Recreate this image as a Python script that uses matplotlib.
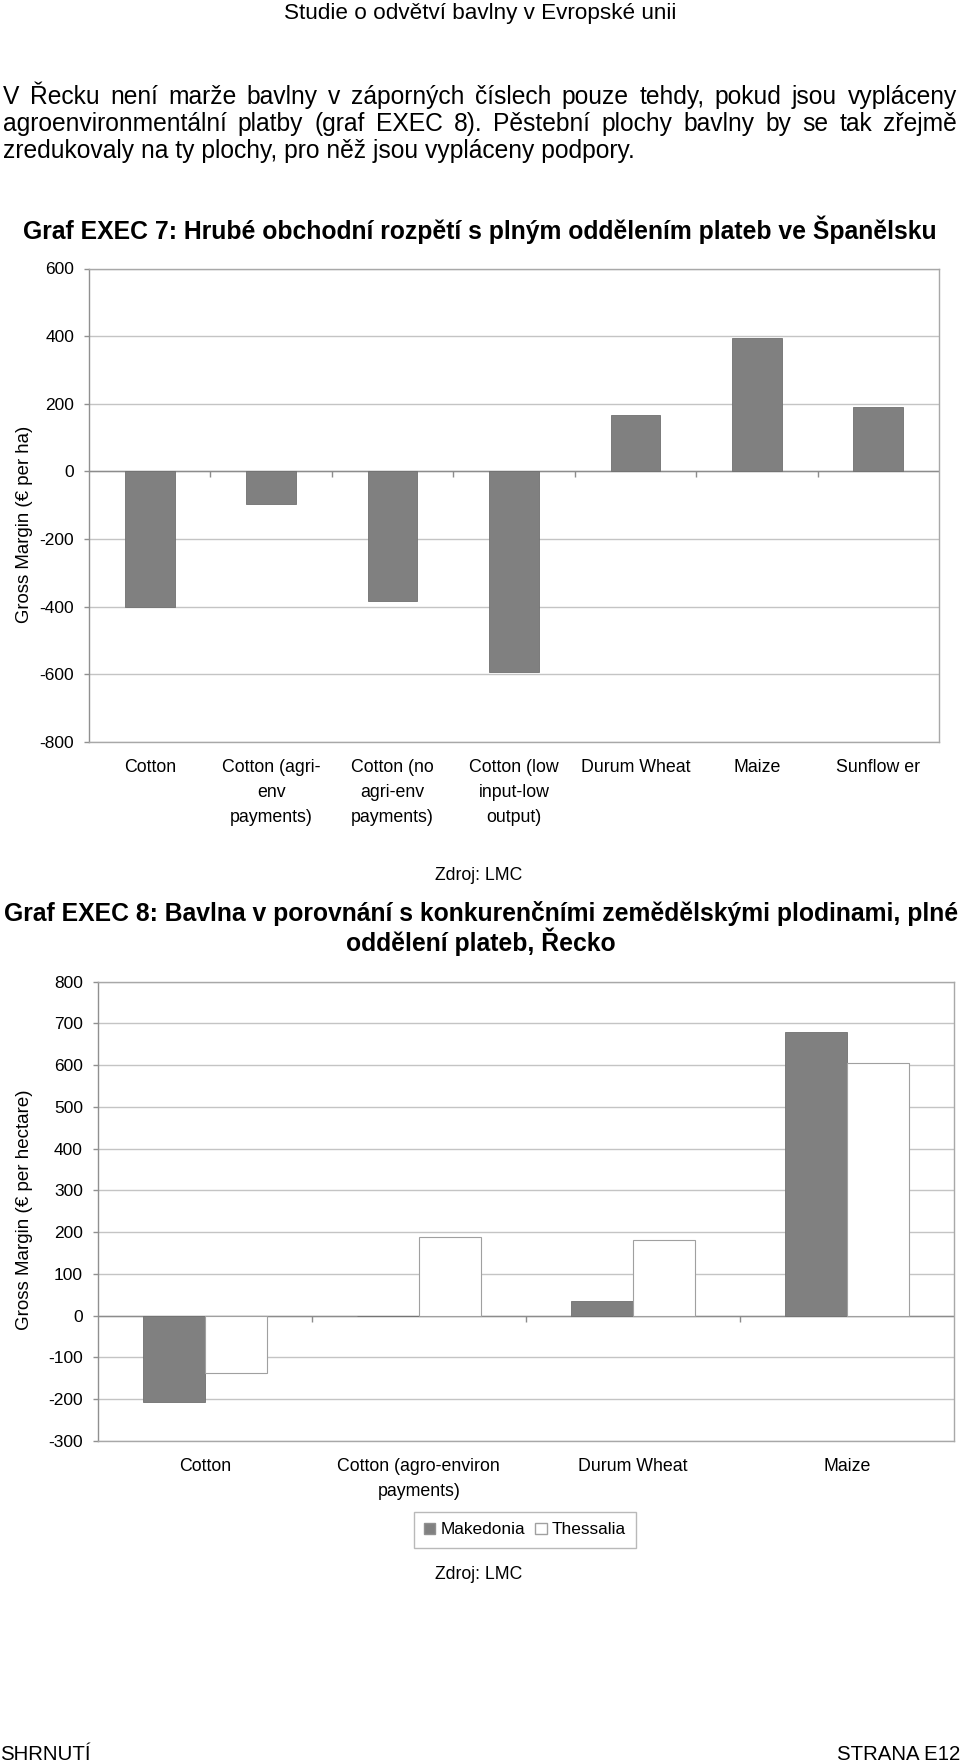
import matplotlib
matplotlib.use('Agg')
import matplotlib.pyplot as plt
from matplotlib.patches import Patch

plt.rcParams['font.family'] = ['Liberation Sans', 'DejaVu Sans']
plt.rcParams['axes.unicode_minus'] = False

# data - graf EXEC 7 (Španělsko)
es_categories = ['Cotton', 'Cotton (agri-\nenv\npayments)', 'Cotton (no\nagri-env\npayments)',
                 'Cotton (low\ninput-low\noutput)', 'Durum Wheat', 'Maize', 'Sunflow er']
es_margin = [-400, -96, -382, -592, 166, 394, 190]
es_ticks = [-800, -600, -400, -200, 0, 200, 400, 600]

# data - graf EXEC 8 (Řecko)
gr_categories = ['Cotton', 'Cotton (agro-environ\npayments)', 'Durum Wheat', 'Maize']
makedonia = [-207, 0, 36, 679]
thessalia = [-137, 188, 181, 605]
gr_ticks = [-300, -200, -100, 0, 100, 200, 300, 400, 500, 600, 700, 800]

header = 'Studie o odvětví bavlny v Evropské unii'
paragraph = [
    'V Řecku není marže bavlny v záporných číslech pouze tehdy, pokud jsou vypláceny',
    'agroenvironmentální platby (graf EXEC 8). Pěstební plochy bavlny by se tak zřejmě',
    'zredukovaly na ty plochy, pro něž jsou vypláceny podpory.',
]
title1 = 'Graf EXEC 7: Hrubé obchodní rozpětí s plným oddělením plateb ve Španělsku'
title2 = ['Graf EXEC 8: Bavlna v porovnání s konkurenčními zemědělskými plodinami, plné',
          'oddělení plateb, Řecko']

W, H = 960, 1764
fig = plt.figure(figsize=(W / 100, H / 100), dpi=100)
renderer = fig.canvas.get_renderer()


def px(x, y):
    # pixel position (origin top left) -> figure fraction
    return x / W, 1 - y / H


def put(x, y, s, **kw):
    return fig.text(*px(x, y), s, **kw)


def justify(line, y, x0, x1, size):
    words = line.split()
    texts = [put(0, y, w, fontsize=size, va='baseline') for w in words]
    widths = [t.get_window_extent(renderer).width for t in texts]
    gap = (x1 - x0 - sum(widths)) / (len(words) - 1)
    x = x0
    for t, w in zip(texts, widths):
        t.set_x(x / W)
        x += w + gap


def style_axes(ax, ticks, n):
    ax.set_xlim(-0.5, n - 0.5)
    ax.set_ylim(ticks[0], ticks[-1])
    ax.set_yticks(ticks)
    ax.set_yticklabels([str(t) for t in ticks])
    ax.yaxis.grid(True, color='#c4c4c4', lw=1)
    ax.set_axisbelow(True)
    for sp in ax.spines.values():
        sp.set_color('#a8a8a8')
        sp.set_linewidth(1)
    ax.spines['left'].set_color('#909090')
    ax.tick_params(axis='y', length=3.6, width=1, color='#909090', pad=7, labelsize=12.5)
    ax.tick_params(axis='x', length=0, pad=12, labelsize=12.8)
    ax.axhline(0, color='#8c8c8c', lw=1, zorder=1)
    # tick marks of the category axis at the zero line
    ax.plot([i + 0.5 for i in range(n - 1)], [0] * (n - 1), ls='none',
            marker=3, ms=4, mew=1, color='#8c8c8c', zorder=1)


# text of the page
put(480, 13.5, header, fontsize=16.2, ha='center', va='center')
justify(paragraph[0], 104, 3, 957, 17.7)
justify(paragraph[1], 131, 3, 957, 17.7)
put(3, 158, paragraph[2], fontsize=17.7, va='baseline')
put(480, 229.6, title1, fontsize=17.8, fontweight='bold', ha='center', va='center')

# graf EXEC 7
ax1 = fig.add_axes([89 / W, 1 - 742 / H, 850 / W, 473.5 / H])
x1 = list(range(len(es_categories)))
ax1.bar(x1, es_margin, width=0.41, color='#808080', edgecolor='#707070', lw=0.6, zorder=2)
style_axes(ax1, es_ticks, len(es_categories))
ax1.set_xticks(x1)
ax1.set_xticklabels(es_categories, linespacing=1.62)
put(25, 524, 'Gross Margin (€ per ha)', fontsize=13.4, rotation=90, ha='center', va='center')

put(479, 875.6, 'Zdroj: LMC', fontsize=12.7, ha='center', va='center')
put(481, 913.8, title2[0], fontsize=17.8, fontweight='bold', ha='center', va='center')
put(481, 942, title2[1], fontsize=17.8, fontweight='bold', ha='center', va='center')

# graf EXEC 8
ax2 = fig.add_axes([97.7 / W, 1 - 1441 / H, 856.3 / W, 459.3 / H])
x2 = list(range(len(gr_categories)))
bw = 0.29
ax2.bar([i - bw / 2 for i in x2], makedonia, width=bw, color='#808080',
        edgecolor='#707070', lw=0.6, zorder=2, label='Makedonia')
ax2.bar([i + bw / 2 for i in x2], thessalia, width=bw, color='white',
        edgecolor='#a0a0a0', lw=0.8, zorder=2, label='Thessalia')
style_axes(ax2, gr_ticks, len(gr_categories))
ax2.set_xticks(x2)
ax2.set_xticklabels(gr_categories, linespacing=1.62)
put(25, 1210, 'Gross Margin (€ per hectare)', fontsize=13.5, rotation=90, ha='center', va='center')

handles = [Patch(facecolor='#808080', edgecolor='#909090', label='Makedonia'),
           Patch(facecolor='white', edgecolor='#a0a0a0', label='Thessalia')]
leg = fig.legend(handles=handles, loc='center', bbox_to_anchor=px(525, 1530), ncol=2,
                 fontsize=12.4, frameon=True, fancybox=False, edgecolor='#a8a8a8',
                 handlelength=0.65, handleheight=0.65, handletextpad=0.3,
                 columnspacing=0.6, borderpad=0.6, borderaxespad=0)
leg.get_frame().set_linewidth(1)

put(479, 1574.5, 'Zdroj: LMC', fontsize=12.7, ha='center', va='center')

# zápatí
put(0, 1754.5, 'SHRNUTÍ', fontsize=14.7, va='center')
put(960, 1754.5, 'STRANA E12', fontsize=14.7, ha='right', va='center')

fig.savefig('out.png', dpi=100)
